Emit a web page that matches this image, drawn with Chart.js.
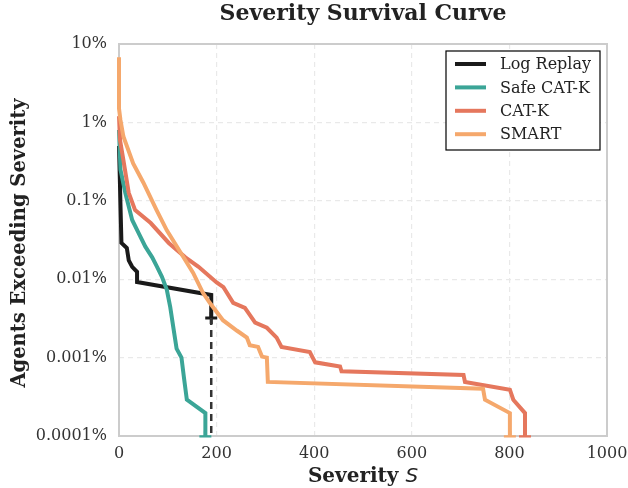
<!DOCTYPE html>
<html>
<head>
<meta charset="utf-8">
<script src="https://cdn.jsdelivr.net/npm/chart.js@4.4.1/dist/chart.umd.min.js"></script>
<style>
  html, body { margin: 0; padding: 0; background: #fff; }
  #wrap { width: 628px; height: 488px; }
</style>
</head>
<body>
<div id="wrap"><canvas id="grafico" width="628" height="488"></canvas></div>
<script>
// survival curves: severity S vs fraction of agents exceeding it
const logReplayS = [0, 5, 16, 20, 27, 37, 37, 189, 189];
const logReplayFrac = [5e-3, 2.9e-4, 2.5e-4, 1.74e-4, 1.44e-4, 1.24e-4, 9.2e-5, 6.3e-5, 3.2e-5];

const safeS = [0, 3, 13, 27, 40, 54, 68, 78, 88, 98, 105, 111, 118, 128, 133, 139, 177, 177];
const safeFrac = [8e-3, 2.5e-3, 1.26e-3, 5.7e-4, 3.9e-4, 2.6e-4, 1.9e-4, 1.44e-4, 1.07e-4, 7.3e-5,
  4.4e-5, 2.5e-5, 1.3e-5, 1.0e-5, 5.6e-6, 2.9e-6, 1.96e-6, 9.8e-7];

const catkS = [0, 2, 8, 20, 33, 65, 102, 136, 163, 200, 214, 234, 258, 279, 303, 323, 333,
  391, 402, 453, 456, 706, 709, 801, 808, 832, 832];
const catkFrac = [1.2e-2, 6.0e-3, 3.6e-3, 1.26e-3, 7.6e-4, 5.2e-4, 2.9e-4, 1.9e-4, 1.44e-4, 9.1e-5,
  7.9e-5, 5.0e-5, 4.3e-5, 2.8e-5, 2.4e-5, 1.8e-5, 1.37e-5, 1.18e-5, 8.7e-6, 7.7e-6, 6.7e-6,
  6.0e-6, 4.9e-6, 3.9e-6, 2.9e-6, 1.96e-6, 9.8e-7];

const smartS = [0, 0, 3, 9, 29, 50, 77, 98, 123, 152, 172, 186, 213, 242, 262, 268, 285, 293,
  303, 305, 746, 750, 801, 801];
const smartFrac = [6.8e-2, 1.5e-2, 1.07e-2, 6.6e-3, 3.0e-3, 1.7e-3, 7.6e-4, 4.2e-4, 2.36e-4, 1.2e-4,
  6.7e-5, 5.0e-5, 3.0e-5, 2.2e-5, 1.8e-5, 1.44e-5, 1.37e-5, 1.03e-5, 1.0e-5, 4.9e-6, 4.0e-6,
  2.9e-6, 1.96e-6, 9.8e-7];

// max severity of log replay (dashed marker)
const maxLogS = [189, 189];
const maxLogFrac = [3.2e-5, 1e-6];

const xTicks = [0, 200, 400, 600, 800, 1000];
const yTickValues = [1e-1, 1e-2, 1e-3, 1e-4, 1e-5, 1e-6];
const yTickLabels = ['10%', '1%', '0.1%', '0.01%', '0.001%', '0.0001%'];

const seriesNames = ['Log Replay', 'Safe CAT-K', 'CAT-K', 'SMART'];
const cores = ['#1a1a1a', '#3ba597', '#e5775d', '#f5a86c'];

const serif = "'DejaVu Serif', serif";

function pontos(xs, ys) {
  return xs.map((x, i) => ({ x: x, y: ys[i] }));
}

function serie(idx, xs, ys, ordem) {
  return {
    label: seriesNames[idx],
    data: pontos(xs, ys),
    borderColor: cores[idx],
    backgroundColor: cores[idx],
    borderWidth: 4,
    pointStyle: 'cross',
    pointRadius: ctx => (ctx.dataIndex === xs.length - 1 ? 6 : 0),
    pointHoverRadius: 0,
    pointBorderWidth: 3,
    pointBorderColor: cores[idx],
    tension: 0,
    fill: false,
    clip: { left: 2, top: 2, right: 2, bottom: 1.5 },
    order: ordem
  };
}

// frame around the plot area + legend + texts
const extras = {
  id: 'extras',
  beforeDatasetsDraw(chart) {
    const { ctx, chartArea: a } = chart;
    ctx.save();
    ctx.strokeStyle = '#cccccc';
    ctx.lineWidth = 2;
    ctx.strokeRect(a.left, a.top, a.right - a.left, a.bottom - a.top);
    ctx.restore();
  },
  afterDraw(chart) {
    const { ctx, chartArea: a } = chart;
    const cx = (a.left + a.right) / 2;
    ctx.save();
    ctx.fillStyle = '#222';
    ctx.textAlign = 'center';
    ctx.textBaseline = 'middle';

    ctx.font = 'bold 22px ' + serif;
    ctx.fillText('Severity Survival Curve', cx, 14);

    // x title: "Severity" bold serif + italic S
    const t1 = 'Severity ';
    ctx.font = 'bold 20px ' + serif;
    const w1 = ctx.measureText(t1).width;
    ctx.font = 'italic 20px "DejaVu Sans"';
    const w2 = ctx.measureText('S').width;
    const x0 = cx - (w1 + w2) / 2;
    ctx.textAlign = 'left';
    ctx.font = 'bold 20px ' + serif;
    ctx.fillText(t1, x0, 477);
    ctx.font = 'italic 20px "DejaVu Sans"';
    ctx.fillText('S', x0 + w1, 477);

    // y title
    ctx.save();
    ctx.translate(20, (a.top + a.bottom) / 2 + 3);
    ctx.rotate(-Math.PI / 2);
    ctx.textAlign = 'center';
    ctx.font = 'bold 19.5px ' + serif;
    ctx.fillText('Agents Exceeding Severity', 0, 0);
    ctx.restore();

    // legend box
    const bx = 446, by = 51, bw = 154, bh = 99;
    ctx.fillStyle = '#fff';
    ctx.fillRect(bx, by, bw, bh);
    ctx.strokeStyle = '#000';
    ctx.lineWidth = 1.2;
    ctx.strokeRect(bx, by, bw, bh);
    ctx.font = '16px ' + serif;
    ctx.textAlign = 'left';
    seriesNames.forEach((nome, i) => {
      const yy = 64 + i * 23.4;
      ctx.strokeStyle = cores[i];
      ctx.lineWidth = 4;
      ctx.beginPath();
      ctx.moveTo(455, yy);
      ctx.lineTo(486, yy);
      ctx.stroke();
      ctx.fillStyle = '#222';
      ctx.fillText(nome, 500, yy + 1);
    });
    ctx.restore();
  }
};

const ctx = document.getElementById('grafico').getContext('2d');
new Chart(ctx, {
  type: 'line',
  data: {
    datasets: [
      serie(0, logReplayS, logReplayFrac, 3),
      serie(1, safeS, safeFrac, 2),
      serie(2, catkS, catkFrac, 1),
      serie(3, smartS, smartFrac, 0),
      {
        label: 'max',
        data: pontos(maxLogS, maxLogFrac),
        borderColor: '#333333',
        borderWidth: 2.5,
        borderDash: [7, 5],
        pointRadius: 0,
        fill: false,
        order: -1
      }
    ]
  },
  plugins: [extras],
  options: {
    responsive: false,
    animation: false,
    layout: { padding: { left: 0, right: 21, top: 44, bottom: 0 } },
    plugins: {
      legend: { display: false },
      title: { display: false },
      tooltip: { enabled: false }
    },
    scales: {
      x: {
        type: 'linear',
        min: 0,
        max: 1000,
        afterFit: s => { s.height = 52; s.paddingLeft = 0; s.paddingRight = 0; },
        afterBuildTicks: s => { s.ticks = xTicks.map(v => ({ value: v })); },
        ticks: {
          font: { family: serif, size: 16 },
          color: '#333',
          padding: 8,
          maxRotation: 0,
          callback: v => String(v)
        },
        grid: { color: '#e9e9e9', lineWidth: 1.2, drawTicks: false },
        border: { display: false, dash: [5, 4] }
      },
      y: {
        type: 'logarithmic',
        min: 1e-6,
        max: 1e-1,
        afterFit: s => { s.width = 119; s.paddingTop = 0; s.paddingBottom = 0; },
        afterBuildTicks: s => { s.ticks = yTickValues.map(v => ({ value: v })); },
        ticks: {
          font: { family: serif, size: 16 },
          color: '#333',
          padding: 12,
          callback: v => {
            const i = yTickValues.findIndex(t => Math.abs(Math.log10(t) - Math.log10(v)) < 1e-6);
            return i >= 0 ? yTickLabels[i] : '';
          }
        },
        grid: { color: '#e9e9e9', lineWidth: 1.2, drawTicks: false },
        border: { display: false, dash: [5, 4] }
      }
    }
  }
});
</script>
</body>
</html>
